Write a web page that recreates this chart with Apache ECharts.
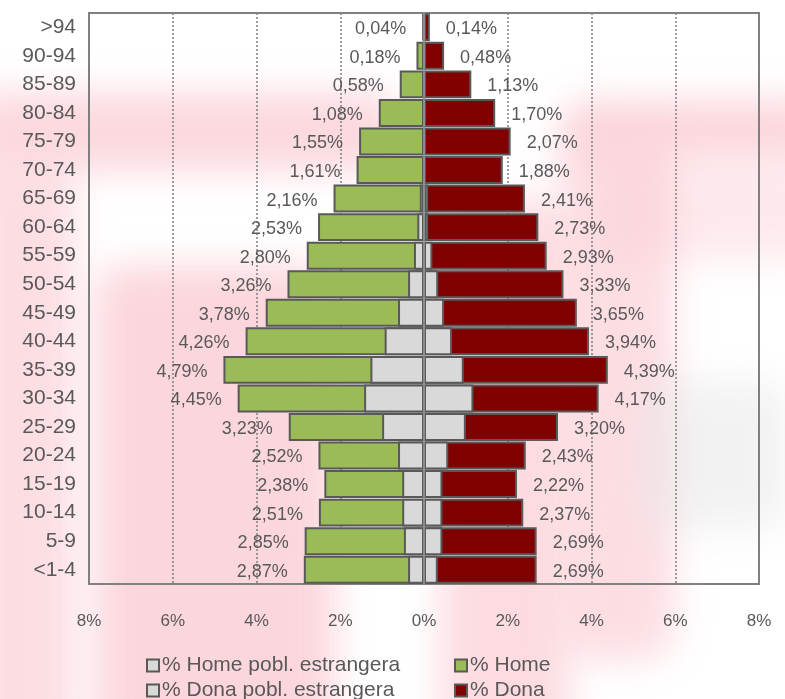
<!DOCTYPE html>
<html>
<head>
<meta charset="utf-8">
<script src="https://cdn.jsdelivr.net/npm/echarts@6/dist/echarts.min.js"></script>
<style>
  html, body { margin: 0; padding: 0; background: #ffffff; }
  #wrap { position: relative; width: 785px; height: 699px; overflow: hidden; background: #ffffff; }
  #haze { position: absolute; left: 0; top: 0; width: 785px; height: 699px; }
  #haze div { position: absolute; background: #fbd0d7; filter: blur(18px); border-radius: 30px; }
  #chart { position: absolute; left: 0; top: 0; width: 785px; height: 699px; }
</style>
</head>
<body>
<div id="wrap">
  <div id="haze">
    <div style="left:-40px; top:92px; width:440px; height:80px; opacity:0.8;"></div>
    <div style="left:560px; top:100px; width:270px; height:60px; opacity:0.85;"></div>
    <div style="left:600px; top:160px; width:230px; height:100px; opacity:0.45;"></div>
    <div style="left:-40px; top:160px; width:115px; height:590px; opacity:0.7;"></div>
    <div style="left:95px; top:265px; width:240px; height:480px; opacity:0.85;"></div>
    <div style="left:440px; top:200px; width:130px; height:550px; opacity:0.75;"></div>
    <div style="left:560px; top:130px; width:115px; height:530px; opacity:0.7;"></div>
    <div style="left:640px; top:380px; width:150px; height:150px; opacity:0.5; background:#e6e6e6;"></div>
  </div>
  <div id="chart"></div>
</div>
<script>
// Age groups, youngest first (drawn bottom to top)
const ageGroups = ['<1-4', '5-9', '10-14', '15-19', '20-24', '25-29', '30-34', '35-39', '40-44', '45-49',
                   '50-54', '55-59', '60-64', '65-69', '70-74', '75-79', '80-84', '85-89', '90-94', '>94'];

// Share of total population (%)
const homeTotal = [2.87, 2.85, 2.51, 2.38, 2.52, 3.23, 4.45, 4.79, 4.26, 3.78,
                   3.26, 2.80, 2.53, 2.16, 1.61, 1.55, 1.08, 0.58, 0.18, 0.04];
const donaTotal = [2.69, 2.69, 2.37, 2.22, 2.43, 3.20, 4.17, 4.39, 3.94, 3.65,
                   3.33, 2.93, 2.73, 2.41, 1.88, 2.07, 1.70, 1.13, 0.48, 0.14];

// Foreign-born share (%)
const homeEstrangera = [0.38, 0.48, 0.52, 0.52, 0.62, 1.00, 1.43, 1.28, 0.94, 0.62,
                        0.38, 0.24, 0.16, 0.10, 0.04, 0.03, 0.02, 0.02, 0.01, 0.01];
const donaEstrangera = [0.33, 0.44, 0.44, 0.44, 0.58, 1.00, 1.18, 0.95, 0.67, 0.48,
                        0.34, 0.20, 0.10, 0.10, 0.04, 0.03, 0.03, 0.02, 0.01, 0.01];

// Axis ticks (absolute percentages on either side)
const axisMin = -8, axisMax = 8, axisStep = 2;

const textGray = '#595959';
const borderGray = '#595959';
const fmtPct = v => Math.abs(v).toFixed(2).replace('.', ',') + '%';

const chart = echarts.init(document.getElementById('chart'), null, { renderer: 'canvas' });

const barBase = {
  type: 'bar',
  barGap: '-100%',
  barCategoryGap: '2%',
  itemStyle: { borderColor: borderGray, borderWidth: 2 }
};

const legendItem = (left, top, name) => ({
  left: left, top: top, itemWidth: 12, itemHeight: 12, itemGap: 0,
  textStyle: { color: textGray, fontSize: 21, padding: [0, 0, 0, -2] },
  data: [{ name: name, icon: 'rect' }]
});

chart.setOption({
  backgroundColor: 'transparent',
  animation: false,
  textStyle: { fontFamily: 'Liberation Sans, Arial, sans-serif' },
  grid: {
    left: 89, right: 26, top: 13, bottom: 115,
    show: true, borderColor: '#808080', borderWidth: 2, backgroundColor: 'transparent'
  },
  xAxis: {
    type: 'value',
    min: axisMin, max: axisMax, interval: axisStep,
    axisLine: { show: false },
    axisTick: { show: false },
    axisLabel: {
      color: textGray, fontSize: 17, margin: 29,
      formatter: v => Math.abs(v) + '%'
    },
    splitLine: {
      show: true,
      lineStyle: { color: '#7f7f7f', type: [2, 2], width: 1.5 }
    }
  },
  yAxis: {
    type: 'category',
    data: ageGroups,
    axisLine: { show: false },
    axisTick: { show: false },
    axisLabel: { color: textGray, fontSize: 21, margin: 13 }
  },
  legend: [
    legendItem(141, 650, '% Home pobl. estrangera'),
    legendItem(449, 650, '% Home'),
    legendItem(141, 675, '% Dona pobl. estrangera'),
    legendItem(449, 675, '% Dona')
  ],
  series: [
    Object.assign({}, barBase, {
      name: '% Home',
      data: homeTotal.map(v => -v),
      itemStyle: { color: '#9BBB59', borderColor: borderGray, borderWidth: 2 },
      label: {
        show: true, position: 'left', distance: 16, offset: [0, 2],
        color: textGray, fontSize: 18, formatter: p => fmtPct(p.value)
      }
    }),
    Object.assign({}, barBase, {
      name: '% Dona',
      data: donaTotal,
      itemStyle: { color: '#800000', borderColor: borderGray, borderWidth: 2 },
      label: {
        show: true, position: 'right', distance: 16, offset: [0, 2],
        color: textGray, fontSize: 18, formatter: p => fmtPct(p.value)
      }
    }),
    Object.assign({}, barBase, {
      name: '% Home pobl. estrangera',
      data: homeEstrangera.map(v => -v),
      itemStyle: { color: '#D9D9D9', borderColor: borderGray, borderWidth: 2 }
    }),
    Object.assign({}, barBase, {
      name: '% Dona pobl. estrangera',
      data: donaEstrangera,
      itemStyle: { color: '#D9D9D9', borderColor: borderGray, borderWidth: 2 },
      markLine: {
        silent: true, symbol: 'none',
        label: { show: false },
        lineStyle: { color: '#8c8c8c', width: 2, type: 'solid' },
        data: [{ xAxis: 0 }]
      }
    })
  ]
});
</script>
</body>
</html>
